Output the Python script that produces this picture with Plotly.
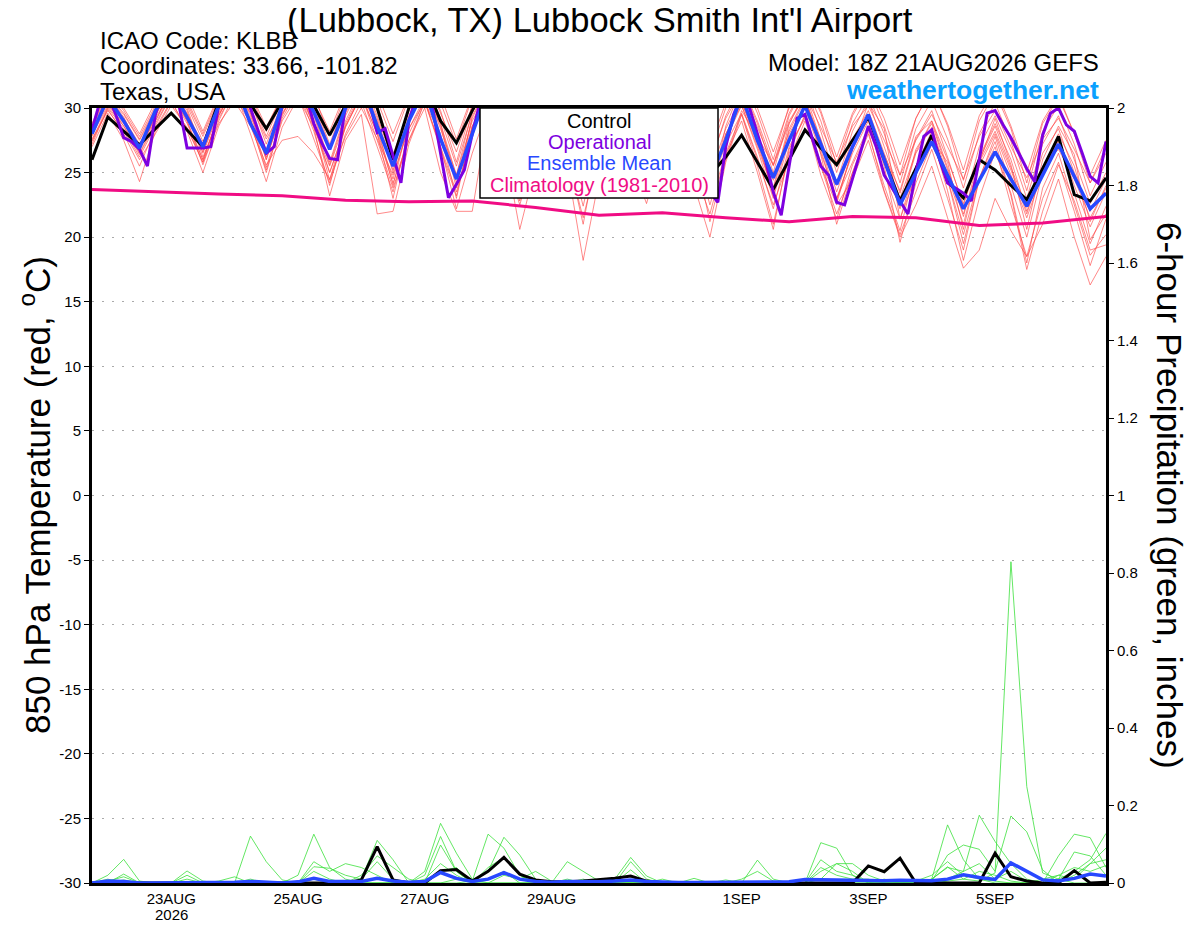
import pandas as pd
import plotly.graph_objects as go

# time axes
times = pd.date_range("2026-08-21 18:00", periods=65, freq="6h")
times_op = pd.date_range("2026-08-21 18:00", periods=129, freq="3h")
times_clim = pd.date_range("2026-08-21 18:00", periods=17, freq="24h")

tick_times = ["2026-08-23", "2026-08-25", "2026-08-27", "2026-08-29",
              "2026-09-01", "2026-09-03", "2026-09-05"]
tick_labels = ["23AUG", "25AUG", "27AUG", "29AUG", "1SEP", "3SEP", "5SEP"]
year_label = "2026"

# 850 hPa temperature (C)
control_temp = [
    26.0, 29.3, 28.2, 27.15, 28.4, 29.6, 28.3, 27.0,
    30.5, 32.0, 30.3, 28.4, 30.5, 32.0, 30.2, 27.9,
    30.2, 32.0, 30.0, 26.0, 30.0, 32.0, 29.0, 27.3,
    29.8, 32.0, 30.5, 28.0, 30.0, 32.0, 30.0, 27.5,
    29.5, 31.5, 29.5, 27.0, 29.0, 31.0, 28.5, 24.8,
    26.2, 27.9, 25.8, 23.7, 26.0, 28.3, 26.9, 25.6,
    27.5, 29.3, 26.0, 22.8, 25.3, 27.9, 24.3, 23.05,
    26.0, 25.2, 24.0, 22.9, 25.3, 27.8, 23.3, 22.8,
    24.6,
]
mean_temp = [
    28.0, 30.8, 29.0, 26.9, 29.8, 31.5, 29.3, 27.0,
    30.2, 32.0, 28.8, 26.5, 30.2, 32.0, 29.7, 26.8,
    30.0, 32.0, 28.6, 25.5, 29.0, 31.5, 27.6, 24.5,
    28.0, 31.5, 30.5, 27.5, 30.0, 32.0, 30.0, 27.0,
    29.5, 31.5, 29.5, 27.0, 29.5, 31.5, 29.5, 24.5,
    27.5, 31.0, 27.5, 24.6, 27.5, 30.2, 27.2, 24.1,
    27.0, 29.5, 26.0, 22.5, 25.0, 27.4, 24.8, 22.2,
    24.4, 26.6, 24.5, 22.4, 24.8, 27.2, 24.7, 22.2,
    23.4,
]
# operational run, 3-hourly
oper_temp = [
    28.3, 30.5, 31.0, 29.5, 27.7, 27.4, 26.8, 25.5, 29.5, 31.5,
    32.0, 30.2, 26.9, 26.9, 26.9, 27.0, 30.2, 32.0, 32.5, 31.5,
    30.0, 28.2, 26.5, 27.0, 30.2, 32.0, 32.5, 31.0, 28.8, 27.3,
    26.1, 26.0, 30.2, 32.0, 32.5, 30.5, 28.1, 28.4, 26.3, 24.2,
    29.0, 31.0, 32.0, 30.0, 26.5, 23.05, 24.1, 25.2, 28.0, 30.5,
    32.0, 32.5, 31.0, 27.5, 25.0, 26.0, 29.5, 31.5, 32.5, 32.0,
    29.5, 26.5, 25.2, 26.5, 30.0, 32.0, 32.5, 31.5, 29.0, 26.5,
    25.0, 26.5, 30.0, 32.0, 32.5, 31.0, 28.0, 25.0, 23.5, 22.7,
    27.0, 29.5, 31.0, 30.0, 28.0, 26.0, 23.5, 21.7, 25.5, 29.2,
    29.5, 27.5, 25.5, 24.8, 22.7, 22.5, 24.5, 26.5, 28.6, 27.0,
    24.8, 23.8, 22.8, 21.8, 25.0, 27.8, 28.3, 26.0, 24.2, 23.8,
    23.4, 22.8, 26.0, 29.6, 29.8, 28.7, 27.7, 26.5, 25.3, 24.3,
    27.9, 29.6, 30.0, 28.7, 28.2, 26.5, 24.7, 24.2, 27.4,
]
# climatology 1981-2010, daily
clim_temp = [23.7, 23.5, 23.35, 23.2, 22.85, 22.75, 22.8, 22.3, 21.7,
             21.9, 21.5, 21.2, 21.6, 21.5, 20.9, 21.1, 21.6]

# ensemble members (thin red)
member_temp = [
    [27.8, 30.8, 29.5, 27.5, 29.8, 32.0, 30.2, 27.4, 30.4, 32.6, 30.8, 27.8,
     30.6, 33.0, 30.5, 27.2, 30.5, 33.0, 30.2, 26.4, 29.8, 32.4, 29.6, 26.6,
     30.2, 32.5, 30.0, 26.8, 30.0, 32.5, 30.0, 26.5, 29.5, 32.0, 29.5, 26.0,
     29.6, 32.0, 29.4, 25.8, 29.2, 31.4, 28.5, 25.5, 28.8, 31.0, 28.5, 25.8,
     28.6, 30.2, 27.5, 24.8, 27.5, 29.5, 27.0, 24.5, 27.8, 29.8, 27.0, 24.6,
     27.6, 29.2, 26.8, 24.2, 26.5],
    [27.2, 30.0, 28.4, 26.2, 28.6, 31.0, 29.0, 26.0, 29.4, 31.8, 29.4, 26.2,
     29.5, 31.5, 28.6, 25.0, 28.5, 31.0, 27.5, 23.8, 27.5, 30.5, 26.8, 23.2,
     28.5, 31.0, 27.0, 22.8, 27.5, 30.5, 25.5, 18.2, 24.5, 29.0, 26.5, 24.5,
     28.0, 30.5, 27.0, 22.5, 26.5, 29.5, 26.0, 22.5, 26.0, 29.0, 25.5, 22.5,
     24.5, 27.5, 23.5, 20.0, 22.5, 25.5, 21.5, 17.6, 19.0, 23.0, 20.5, 18.5,
     21.0, 24.5, 20.0, 16.3, 18.5],
    [28.5, 31.2, 29.0, 26.5, 29.0, 31.5, 29.5, 26.8, 30.0, 32.0, 29.8, 26.4,
     30.0, 32.5, 30.0, 26.8, 30.0, 32.5, 29.4, 25.8, 29.4, 32.0, 29.2, 25.5,
     29.6, 32.0, 29.2, 25.5, 29.0, 31.5, 28.5, 25.0, 28.8, 31.5, 28.6, 25.6,
     28.8, 31.0, 28.0, 24.8, 28.4, 30.8, 27.8, 24.4, 28.2, 30.6, 27.6, 24.0,
     27.6, 29.8, 26.5, 23.0, 26.6, 29.0, 26.0, 22.6, 26.0, 28.6, 25.4, 22.3,
     26.5, 28.4, 25.0, 22.0, 24.5],
    [27.0, 29.6, 27.5, 24.3, 28.2, 30.5, 28.4, 25.8, 29.5, 31.5, 28.0, 24.3,
     28.5, 30.8, 28.5, 25.5, 29.0, 31.5, 28.2, 24.5, 28.8, 31.5, 28.4, 24.8,
     29.0, 31.2, 28.0, 24.5, 28.4, 31.0, 27.8, 24.4, 28.5, 31.0, 28.0, 24.6,
     28.2, 30.6, 27.4, 24.2, 27.8, 30.5, 27.2, 23.8, 28.8, 31.2, 27.5, 23.5,
     27.0, 29.5, 26.0, 22.2, 26.8, 28.8, 25.2, 21.8, 25.5, 28.0, 24.8, 21.5,
     25.0, 27.6, 24.0, 20.8, 23.5],
    [28.0, 30.4, 28.6, 26.8, 29.4, 31.6, 29.6, 27.2, 30.2, 32.4, 30.4, 27.6,
     29.8, 32.0, 28.5, 23.2, 27.5, 29.5, 21.8, 22.0, 27.2, 30.5, 27.0, 23.5,
     28.0, 30.8, 27.5, 24.0, 28.4, 31.0, 27.6, 24.2, 28.5, 31.0, 27.8, 24.4,
     27.6, 30.2, 26.5, 23.4, 28.0, 30.2, 26.8, 23.0, 27.5, 30.0, 26.5, 23.0,
     26.5, 29.0, 25.0, 21.4, 25.5, 28.2, 24.5, 19.5, 24.5, 27.8, 24.0, 20.0,
     25.0, 27.5, 23.4, 19.5, 22.4],
    [28.2, 30.6, 29.2, 27.2, 29.6, 31.8, 29.8, 26.2, 29.2, 31.4, 29.6, 26.8,
     29.6, 31.5, 28.8, 25.0, 28.6, 31.0, 28.0, 24.2, 27.5, 30.0, 25.0, 22.0,
     22.0, 29.5, 27.2, 20.6, 25.5, 29.5, 26.5, 21.0, 27.5, 30.5, 27.2, 23.5,
     27.8, 30.5, 24.0, 20.0, 25.8, 29.5, 25.5, 21.0, 26.5, 29.5, 25.5, 21.8,
     25.0, 28.0, 24.0, 20.5, 25.5, 27.8, 23.6, 18.2, 23.0, 26.6, 23.4, 18.0,
     23.8, 26.5, 22.5, 18.6, 20.2],
    [28.8, 31.5, 30.0, 28.0, 30.5, 32.8, 31.0, 28.2, 31.0, 33.0, 31.2, 28.5,
     31.0, 33.2, 31.0, 27.8, 31.0, 33.5, 31.2, 28.0, 31.0, 33.2, 31.0, 27.6,
     31.0, 33.5, 31.2, 27.5, 30.8, 33.2, 30.8, 27.2, 30.6, 33.0, 30.4, 27.0,
     30.5, 32.8, 30.2, 27.0, 30.4, 32.6, 30.0, 26.6, 30.0, 32.4, 29.8, 26.2,
     29.6, 31.8, 29.2, 25.6, 29.2, 31.5, 28.8, 25.2, 29.4, 31.6, 28.6, 25.0,
     29.0, 31.0, 28.0, 24.8, 27.5],
    [27.6, 29.8, 28.2, 26.0, 28.0, 30.2, 28.5, 25.8, 28.8, 30.5, 28.6, 25.6,
     27.5, 27.8, 26.5, 24.5, 27.8, 30.0, 27.6, 24.8, 28.4, 30.5, 27.8, 24.5,
     28.6, 30.6, 27.5, 24.6, 28.2, 30.6, 27.2, 24.0, 28.0, 30.4, 27.0, 23.6,
     27.6, 30.0, 26.2, 23.8, 27.2, 29.6, 26.2, 22.2, 27.0, 29.2, 25.8, 23.0,
     25.8, 28.5, 25.0, 22.4, 26.5, 28.5, 24.8, 21.0, 25.8, 28.2, 25.2, 21.8,
     25.5, 26.8, 24.5, 21.5, 23.8],
    [28.4, 31.0, 29.6, 27.6, 30.0, 32.2, 30.4, 27.8, 30.6, 32.8, 30.6, 27.2,
     30.4, 32.6, 30.2, 27.0, 30.4, 32.8, 30.0, 26.2, 30.0, 32.4, 29.8, 25.8,
     30.2, 32.4, 30.0, 26.2, 29.8, 32.2, 29.6, 26.0, 30.0, 32.4, 29.8, 26.2,
     29.8, 32.0, 29.2, 25.6, 29.4, 31.8, 29.0, 25.6, 29.6, 31.8, 29.0, 25.0,
     28.8, 31.0, 28.0, 24.2, 28.4, 30.6, 27.6, 23.8, 28.0, 30.4, 27.4, 23.6,
     28.2, 30.2, 27.2, 23.2, 25.8],
    [27.9, 30.2, 28.8, 27.0, 29.0, 31.2, 29.2, 26.6, 29.8, 32.2, 30.0, 26.0,
     30.2, 32.2, 29.6, 25.8, 29.6, 32.0, 29.2, 25.2, 29.2, 31.6, 28.8, 24.8,
     29.8, 32.0, 29.2, 25.2, 29.4, 31.8, 28.6, 24.6, 29.0, 31.4, 28.2, 24.2,
     28.6, 31.0, 27.6, 23.8, 27.6, 30.2, 27.0, 23.6, 28.4, 30.8, 27.2, 22.8,
     26.8, 29.2, 25.5, 19.6, 24.2, 27.2, 24.5, 20.2, 24.6, 27.4, 23.2, 17.5,
     22.0, 25.6, 22.8, 19.0, 19.4],
    [28.6, 31.4, 29.8, 27.8, 30.2, 32.4, 30.6, 28.0, 30.8, 33.0, 31.0, 28.2,
     31.0, 33.0, 30.8, 28.2, 31.2, 33.2, 30.6, 27.4, 30.8, 33.0, 30.4, 27.2,
     30.8, 33.0, 30.4, 27.0, 30.4, 32.8, 30.2, 26.8, 30.2, 32.6, 30.0, 26.8,
     30.4, 32.6, 29.8, 26.4, 30.0, 32.4, 29.6, 26.0, 30.2, 32.4, 29.6, 25.6,
     29.4, 31.6, 28.6, 24.8, 29.2, 31.6, 28.6, 24.4, 29.0, 31.2, 28.4, 24.2,
     28.8, 30.8, 28.0, 24.2, 27.0],
    [27.4, 29.9, 28.0, 25.5, 28.4, 30.6, 28.2, 25.0, 28.6, 31.0, 28.8, 25.2,
     29.0, 31.0, 27.6, 24.2, 28.0, 30.5, 27.0, 23.5, 28.0, 30.6, 27.0, 22.2,
     26.5, 30.0, 26.5, 22.5, 26.8, 30.2, 26.2, 21.5, 26.5, 29.8, 26.0, 22.6,
     27.0, 29.8, 25.2, 21.8, 26.4, 29.0, 25.0, 20.6, 26.8, 29.4, 24.8, 21.4,
     25.6, 28.2, 23.6, 20.2, 23.5, 26.8, 23.0, 19.0, 24.5, 27.0, 22.5, 18.5,
     23.0, 25.8, 22.0, 17.8, 21.4],
    [28.1, 30.9, 29.3, 26.9, 29.2, 31.3, 29.0, 25.6, 29.0, 31.6, 29.2, 25.4,
     29.4, 31.8, 29.0, 24.4, 28.8, 31.2, 28.6, 24.0, 29.0, 31.4, 28.6, 23.8,
     29.4, 31.6, 28.8, 24.8, 29.0, 31.2, 28.0, 23.6, 28.6, 31.0, 27.8, 23.4,
     28.4, 30.8, 27.2, 23.0, 28.6, 31.6, 28.8, 25.0, 29.4, 31.8, 28.2, 24.2,
     28.2, 30.6, 27.0, 23.4, 27.6, 29.8, 26.2, 22.4, 27.0, 29.4, 26.6, 23.0,
     27.2, 29.4, 26.0, 22.6, 25.0],
    [27.5, 30.1, 28.6, 26.4, 28.8, 31.0, 28.8, 26.0, 29.4, 31.6, 29.0, 25.0,
     29.2, 31.4, 28.2, 24.0, 28.6, 31.0, 28.0, 23.0, 28.4, 30.8, 28.0, 23.0,
     28.6, 31.2, 28.0, 23.8, 28.6, 31.0, 27.4, 22.4, 27.8, 30.6, 27.4, 23.0,
     28.0, 30.4, 26.8, 21.2, 26.0, 29.8, 27.8, 25.6, 29.0, 31.0, 26.4, 21.0,
     25.0, 28.4, 26.4, 23.6, 27.8, 29.0, 25.4, 21.6, 26.2, 28.8, 26.0, 22.0,
     25.2, 28.0, 25.5, 21.2, 24.0],
    [28.3, 30.7, 29.1, 26.7, 29.4, 31.8, 30.0, 26.5, 29.6, 32.0, 29.6, 26.0,
     29.8, 32.2, 29.4, 25.6, 29.4, 31.8, 29.0, 25.0, 29.2, 31.6, 28.8, 24.2,
     29.2, 31.8, 29.0, 25.0, 29.2, 31.6, 28.8, 24.8, 29.0, 31.4, 28.4, 24.4,
     28.8, 31.2, 28.2, 23.6, 28.0, 30.4, 27.6, 23.2, 28.0, 30.2, 26.8, 22.6,
     26.8, 30.4, 28.4, 21.4, 24.8, 27.6, 25.8, 20.6, 25.8, 29.2, 25.6, 20.6,
     26.0, 28.6, 26.4, 19.8, 21.8],
]

# 6-hour precipitation (inches)
control_precip = [
    0, 0, 0, 0, 0, 0, 0, 0,
    0, 0, 0, 0, 0, 0, 0, 0,
    0, 0.008, 0.094, 0.008, 0, 0, 0.032, 0.035,
    0.005, 0.03, 0.066, 0.023, 0.008, 0.003, 0.003, 0.005,
    0.009, 0.012, 0.018, 0.005, 0, 0, 0, 0,
    0, 0, 0, 0, 0, 0, 0, 0,
    0, 0.044, 0.029, 0.064, 0, 0, 0, 0,
    0, 0.077, 0.016, 0.005, 0, 0, 0.032, 0,
    0.002,
]
mean_precip = [
    0, 0.005, 0.004, 0, 0, 0, 0.002, 0,
    0, 0.002, 0.004, 0.002, 0, 0.003, 0.012, 0.004,
    0.003, 0.004, 0.012, 0.005, 0.002, 0.004, 0.027, 0.012,
    0.004, 0.010, 0.027, 0.010, 0.004, 0.002, 0.004, 0.003,
    0.003, 0.005, 0.008, 0.004, 0.002, 0.001, 0.001, 0.001,
    0.001, 0.002, 0.002, 0.001, 0.003, 0.009, 0.008, 0.007,
    0.006, 0.005, 0.006, 0.007, 0.006, 0.006, 0.010, 0.021,
    0.014, 0.009, 0.052, 0.030, 0.008, 0.005, 0.012, 0.023,
    0.018,
]
member_precip = [
    [0, 0.01, 0, 0, 0, 0, 0, 0,
     0, 0, 0.121, 0.055, 0.008, 0, 0, 0,
     0, 0, 0, 0, 0, 0.01, 0.05, 0.02,
     0, 0, 0, 0, 0, 0, 0, 0,
     0, 0, 0, 0, 0, 0, 0, 0,
     0, 0, 0, 0, 0, 0, 0, 0,
     0, 0, 0, 0, 0, 0, 0.005, 0.01,
     0.005, 0.026, 0.829, 0.249, 0.026, 0.01, 0, 0,
     0],
    [0, 0.02, 0.061, 0.005, 0, 0, 0, 0,
     0, 0, 0, 0, 0, 0.02, 0.126, 0.04,
     0.01, 0, 0, 0, 0, 0.03, 0.154, 0.077,
     0.01, 0, 0, 0, 0, 0, 0, 0,
     0, 0, 0, 0, 0, 0, 0, 0,
     0, 0, 0, 0, 0, 0, 0.104, 0.09,
     0.02, 0, 0, 0, 0, 0.01, 0.15, 0.06,
     0.01, 0, 0, 0, 0, 0.07, 0.126, 0.117,
     0.04],
    [0, 0, 0.023, 0, 0, 0, 0.031, 0.005,
     0, 0, 0, 0, 0, 0, 0, 0,
     0, 0.01, 0.11, 0.06, 0, 0, 0, 0,
     0.005, 0.126, 0.09, 0.02, 0, 0, 0, 0,
     0, 0.01, 0.066, 0.018, 0, 0, 0, 0,
     0, 0, 0, 0, 0, 0, 0, 0,
     0, 0, 0, 0, 0, 0.01, 0.04, 0.03,
     0.175, 0.107, 0.05, 0.01, 0, 0.01, 0.03, 0.06,
     0.128],
    [0, 0, 0, 0, 0, 0, 0.02, 0,
     0.005, 0.016, 0, 0, 0, 0, 0.055, 0.03,
     0.05, 0.04, 0.02, 0, 0, 0, 0.098, 0.03,
     0, 0.03, 0.118, 0.072, 0.01, 0, 0.055, 0.03,
     0.005, 0, 0, 0, 0, 0, 0, 0,
     0, 0, 0.059, 0.01, 0, 0, 0.03, 0.05,
     0.03, 0, 0, 0, 0, 0.005, 0.072, 0.098,
     0.087, 0.03, 0.173, 0.132, 0.034, 0, 0.02, 0.05,
     0.09],
    [0, 0.005, 0.016, 0, 0, 0, 0, 0,
     0, 0, 0, 0, 0, 0, 0.042, 0.038,
     0.02, 0.01, 0.055, 0.01, 0, 0, 0.03, 0.04,
     0, 0, 0.02, 0.01, 0.03, 0.005, 0, 0,
     0, 0, 0.055, 0.01, 0, 0, 0.012, 0,
     0, 0, 0, 0, 0, 0, 0.01, 0.05,
     0.05, 0.02, 0.005, 0, 0.005, 0.02, 0.055, 0.02,
     0.01, 0.005, 0, 0, 0.01, 0.02, 0.04, 0.03,
     0.045],
    [0, 0, 0.008, 0, 0, 0, 0, 0,
     0, 0, 0.01, 0, 0, 0, 0.01, 0,
     0, 0.02, 0.07, 0.04, 0.01, 0, 0, 0.01,
     0, 0.04, 0.066, 0.02, 0, 0, 0.01, 0,
     0, 0, 0.034, 0, 0, 0, 0, 0,
     0.008, 0, 0, 0, 0, 0, 0.04, 0.02,
     0.01, 0.01, 0, 0, 0, 0.01, 0.042, 0.01,
     0.03, 0.02, 0.005, 0, 0, 0.02, 0.01, 0.05,
     0.06],
    [0, 0, 0, 0, 0, 0, 0.01, 0,
     0, 0, 0, 0, 0, 0, 0.03, 0.01,
     0, 0, 0, 0, 0, 0.02, 0.12, 0.03,
     0, 0.01, 0.03, 0, 0, 0, 0, 0.01,
     0, 0, 0, 0, 0.01, 0, 0, 0,
     0, 0.01, 0.03, 0.005, 0, 0, 0.06, 0.03,
     0.02, 0, 0.01, 0, 0, 0, 0.01, 0.03,
     0.05, 0.01, 0.03, 0.005, 0, 0.01, 0.08, 0.07,
     0.02],
]

FONT = "Liberation Sans, Arial, sans-serif"
# the page adds an 8px body margin, so the figure is shifted by 8px
W, H = 1192, 919
OFF = 8
L, R, T, B = 92, 1106, 108, 883  # plot area in page pixels


def px(x):
    return (x - L) / (R - L)


def py(y):
    return (B - y) / (B - T)


fig = go.Figure()

for m in member_temp:
    fig.add_scatter(x=times, y=m, mode="lines",
                    line={"color": "rgba(255,70,70,0.8)", "width": 0.8})
for m in member_precip:
    fig.add_scatter(x=times, y=m, mode="lines", yaxis="y2",
                    line={"color": "rgb(60,225,60)", "width": 0.8})

fig.add_scatter(x=times_clim, y=clim_temp, mode="lines",
                line={"color": "#f00c84", "width": 3})
fig.add_scatter(x=times, y=control_temp, mode="lines",
                line={"color": "black", "width": 3})
fig.add_scatter(x=times, y=control_precip, mode="lines", yaxis="y2",
                line={"color": "black", "width": 3})
fig.add_scatter(x=times_op, y=oper_temp, mode="lines",
                line={"color": "#7d00e0", "width": 3})
fig.add_scatter(x=times, y=mean_temp, mode="lines",
                line={"color": "#2848ff", "width": 3.5})
fig.add_scatter(x=times, y=mean_precip, mode="lines", yaxis="y2",
                line={"color": "#2848ff", "width": 3.5})

temp_ticks = list(range(-30, 35, 5))

fig.update_layout(
    width=W, height=H,
    margin={"l": L - OFF, "r": W - (R - OFF), "t": T - OFF, "b": H - (B - OFF),
            "autoexpand": False},
    paper_bgcolor="white", plot_bgcolor="white",
    showlegend=False,
    font={"family": FONT, "color": "black", "size": 15},
    xaxis={
        "type": "date", "automargin": False,
        "range": [times[0], times[-1]],
        "tickvals": pd.to_datetime(tick_times), "ticktext": tick_labels,
        "ticks": "", "showgrid": False, "zeroline": False,
        "showline": True, "linewidth": 3, "linecolor": "black", "mirror": True,
        "tickfont": {"size": 15},
    },
    yaxis={
        "range": [-30, 30], "automargin": False,
        "tickvals": temp_ticks, "ticktext": [str(v) for v in temp_ticks],
        "ticks": "outside", "ticklen": 5, "tickcolor": "black",
        "showgrid": True, "gridcolor": "#aaaaaa", "griddash": "2px,8px",
        "gridwidth": 1.2, "zeroline": False,
        "showline": True, "linewidth": 3, "linecolor": "black",
        "tickfont": {"size": 15},
    },
    yaxis2={
        "range": [0, 2], "overlaying": "y", "side": "right", "automargin": False,
        "dtick": 0.2, "tick0": 0,
        "ticks": "outside", "ticklen": 5, "tickcolor": "black",
        "showgrid": False, "zeroline": False,
        "showline": True, "linewidth": 3, "linecolor": "black",
        "tickfont": {"size": 15},
    },
)

# year under the first date label
fig.add_annotation(text=year_label, xref="x", yref="paper",
                   x=pd.Timestamp(tick_times[0]), y=py(914),
                   showarrow=False, xanchor="center", yanchor="middle",
                   font={"size": 15})

# legend box
fig.add_shape(type="rect", xref="paper", yref="paper",
              x0=px(480), x1=px(718), y0=py(198), y1=1,
              fillcolor="white", line={"color": "black", "width": 1.5},
              layer="above")

legend_items = [("Control", "black", 121), ("Operational", "#7d00e0", 142),
                ("Ensemble Mean", "#2848ff", 163),
                ("Climatology (1981-2010)", "#f00c84", 185)]
for txt, col, yy in legend_items:
    fig.add_annotation(text=txt, xref="paper", yref="paper", x=px(599), y=py(yy),
                       showarrow=False, xanchor="center", yanchor="middle",
                       font={"size": 20, "color": col})

texts = [
    ("(Lubbock, TX) Lubbock Smith Int'l Airport", 600, 20, "center", 34.5, "black", False),
    ("ICAO Code: KLBB", 98, 40, "left", 24, "black", False),
    ("Coordinates: 33.66, -101.82", 98, 66, "left", 24, "black", False),
    ("Texas, USA", 98, 92, "left", 24, "black", False),
    ("Model: 18Z 21AUG2026 GEFS", 1101, 63, "right", 24, "black", False),
    ("weathertogether.net", 1101, 90, "right", 26.5, "#0aa0ff", True),
]
for txt, x, y, anc, size, col, bold in texts:
    fig.add_annotation(text=f"<b>{txt}</b>" if bold else txt,
                       xref="paper", yref="paper", x=px(x), y=py(y),
                       showarrow=False, xanchor=anc, yanchor="middle",
                       font={"size": size, "color": col})

fig.add_annotation(text="850 hPa Temperature (red, <sup>o</sup>C)",
                   xref="paper", yref="paper", x=px(35), y=py(495),
                   showarrow=False, textangle=-90, xanchor="center", yanchor="middle",
                   font={"size": 35})
fig.add_annotation(text="6-hour Precipitation (green, inches)",
                   xref="paper", yref="paper", x=px(1170), y=py(495),
                   showarrow=False, textangle=90, xanchor="center", yanchor="middle",
                   font={"size": 35})

fig.write_html("out.html")
